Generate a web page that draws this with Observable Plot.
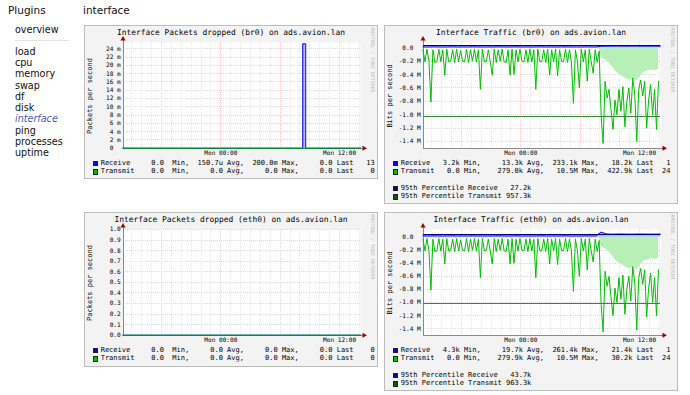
<!DOCTYPE html>
<html><head><meta charset="utf-8">
<script src="https://cdn.jsdelivr.net/npm/d3@7"></script>
<script src="https://cdn.jsdelivr.net/npm/@observablehq/plot@0.6"></script>
<style>
body{margin:0;background:#fff;width:690px;height:395px;overflow:hidden;position:relative;font-family:"DejaVu Sans",sans-serif;color:#111}
.h{position:absolute;font-size:10.5px;line-height:1;white-space:pre}
.nav{position:absolute;left:15px;font-size:9.6px;line-height:1;white-space:pre}
.hr{position:absolute;left:15px;top:40px;width:54px;height:1px;background:#e4e4e4}
.box{position:absolute;box-sizing:border-box;width:294px;background:#f3f3f3;border:1px solid #bdbdbd;overflow:hidden;font-family:"DejaVu Sans Mono",monospace;color:#000}
.title{position:absolute;left:0;right:0;top:2.6px;text-align:center;font-size:7.9px;line-height:1;white-space:pre}
.leg{position:absolute;left:15.7px;font-size:7px;line-height:1;white-space:pre}
.sq{position:absolute;left:7.5px;width:3.5px;height:3.5px;border:1px solid #222}
.ylab{position:absolute;font-size:7px;line-height:1;white-space:pre;transform:translate(-50%,-50%) rotate(-90deg)}
.wm{position:absolute;font-size:4.9px;line-height:1;color:#bdbdbd;white-space:pre;transform:translate(-50%,-50%) rotate(90deg)}
.box svg{position:absolute;left:0;top:0}
</style></head><body>
<div id="root"></div>
<script>
// ---------- data ----------
const navItems = ["load","cpu","memory","swap","df","disk","interface","ping","processes","uptime"];
const xTickLabels = ["2024-01-15T00:00:00Z","2024-01-15T12:00:00Z"];
const timeStart = "2024-01-14T14:07:00Z", timeEnd = "2024-01-15T14:07:00Z";

// packets dropped (br0): receive spike, transmit flat
const dropTimes = ["2024-01-14T14:07:00Z","2024-01-15T08:17:00Z","2024-01-15T08:35:00Z","2024-01-15T14:07:00Z"];
const dropRxBr0 = [0, 0.0252, 0, 0];
const dropTxBr0 = [0, 0, 0, 0];
const dropRxEth0 = [0, 0, 0, 0];
const dropTxEth0 = [0, 0, 0, 0];

// traffic, transmit (M bit/s, drawn downward), one value per 12 minutes
const txBr0M = [0.03,0.21,0.02,0.2,0.81,0.03,0.22,0.21,0.02,0.21,0.03,0.41,0.02,0.21,0.2,0.03,0.22,0.02,0.21,0.04,
0.2,0.21,0.02,0.22,0.03,0.2,0.02,0.21,0.03,0.62,0.02,0.21,0.2,0.03,0.21,0.41,0.02,0.22,0.03,0.2,
0.02,0.21,0.22,0.03,0.41,0.02,0.4,0.03,0.21,0.02,0.2,0.21,0.03,0.22,0.02,0.21,0.03,0.62,0.02,0.2,
0.21,0.03,0.22,0.02,0.41,0.03,0.21,0.02,0.42,0.03,0.2,0.21,0.02,0.22,0.03,0.21,0.83,0.03,0.2,0.6,
0.02,0.21,0.03,0.5,0.02,0.21,0.38,0.03,0.22,0.05,
1.02,1.43,0.5,0.75,0.62,0.92,1.22,0.78,1.0,0.62,0.95,0.58,1.18,0.8,0.6,0.98,0.45,0.7,1.4,0.62,
0.48,0.72,0.5,1.2,0.78,0.55,1.0,0.62,1.22,0.5];
const txEth0M = [0.03,0.21,0.02,0.2,0.81,0.03,0.22,0.21,0.02,0.21,0.03,0.41,0.02,0.21,0.2,0.03,0.22,0.02,0.21,0.04,
0.2,0.21,0.02,0.22,0.03,0.2,0.02,0.21,0.03,0.62,0.02,0.21,0.2,0.03,0.21,0.41,0.02,0.22,0.03,0.2,
0.02,0.21,0.22,0.03,0.41,0.02,0.4,0.03,0.21,0.02,0.2,0.21,0.03,0.22,0.02,0.21,0.03,0.62,0.02,0.2,
0.21,0.03,0.22,0.02,0.41,0.03,0.21,0.02,0.42,0.03,0.2,0.21,0.02,0.22,0.03,0.21,0.83,0.03,0.2,0.6,
0.02,0.21,0.03,0.5,0.02,0.21,0.38,0.03,0.22,0.05,
1.03,1.45,0.52,0.75,0.6,0.92,1.2,0.78,1.0,0.62,0.95,0.58,1.18,0.8,0.6,0.98,0.45,0.7,1.42,0.62,
0.48,0.72,0.5,1.22,0.78,0.55,1.0,0.62,1.2,0.5];
// light green envelope, from the 90th 12-minute slot on
const txFillOffset = 89;
const txFillBr0M = [0,0.14,0.16,0.18,0.2,0.22,0.26,0.3,0.34,0.37,0.39,0.41,0.43,0.45,0.47,0.48,0.48,0.46,0.48,0.5,0.46,0.42,0.38,0.36,0.35,0.34,0.33,0.33,0.34,0.33,0.33];
const txFillEth0M = [0,0.14,0.16,0.18,0.2,0.22,0.26,0.3,0.34,0.37,0.39,0.41,0.43,0.45,0.47,0.48,0.48,0.46,0.48,0.5,0.46,0.42,0.38,0.36,0.35,0.34,0.33,0.33,0.34,0.33,0.33];
// receive (k bit/s), one value per 30 minutes
const rxBr0K = [13,12,14,13,12,13,14,12,13,12,14,13,12,13,12,14,13,12,13,14,12,13,12,13,14,12,13,12,13,14,12,13,12,14,13,12,24,26,25,27,26,25,26,27,25,26,25,26,26];
const rxEth0K = [20,19,21,20,19,20,21,19,20,19,21,20,19,20,19,21,20,19,20,21,19,20,19,20,21,19,20,19,20,21,19,20,19,21,20,19,78,50,46,47,48,47,46,47,48,47,46,47,47];
const pct95 = {br0:{rx:27.2e3, tx:1.02e6}, eth0:{rx:43.7e3, tx:1.02e6}};

const dropTicks = [0,0.002,0.004,0.006,0.008,0.010,0.012,0.014,0.016,0.018,0.020,0.022,0.024];
const dropTicksEth0 = [0,0.1,0.2,0.3,0.4,0.5,0.6,0.7,0.8,0.9,1.0];
const trafficTicks = [0,-0.2e6,-0.4e6,-0.6e6,-0.8e6,-1.0e6,-1.2e6,-1.4e6];

// legend texts
const statsDropBr0 = {rx:["0.0","150.7u","200.0m","0.0","13"], tx:["0.0","0.0","0.0","0.0","0"]};
const statsDropEth0 = {rx:["0.0","0.0","0.0","0.0","0"], tx:["0.0","0.0","0.0","0.0","0"]};
const statsTrafBr0 = {rx:["3.2k","13.3k","233.1k","18.2k","1"], tx:["0.0","279.0k","10.5M","422.9k","24"], p95:["27.2k","957.3k"]};
const statsTrafEth0 = {rx:["4.3k","19.7k","261.4k","21.4k","1"], tx:["0.0","279.9k","10.5M","30.2k","24"], p95:["43.7k","963.3k"]};

// ---------- helpers ----------
function el(cls, css, text, parent){ const d=document.createElement("div"); d.className=cls; Object.assign(d.style, css||{}); if(text!=null) d.textContent=text; (parent||document.body).appendChild(d); return d; }

el("h",{left:"8px",top:"5px"},"Plugins");
el("h",{left:"83px",top:"5px"},"interface");
el("nav",{top:"25.3px"},"overview");
el("hr",{});
navItems.forEach((n,i)=>{ const d=el("nav",{top:(46.6+i*11.3)+"px"},n); if(n==="interface"){d.style.fontStyle="italic";d.style.color="#3d5fb0";} });

const t0 = new Date(timeStart), t1 = new Date(timeEnd);
const hours = d3.utcHour.range(t0, t1);
const sixHours = d3.utcHour.every(6).range(t0, t1);
const xLab = xTickLabels.map(s=>new Date(s));
const step12 = i => new Date(+t0 + i*12*60e3);
const step30 = i => new Date(+t0 + i*30*60e3);
const crisp = {shapeRendering:"crispEdges"};

function chart(yDomain, yTicks, yFmt, marks){
  const ymin = yDomain[0], ymax = yDomain[1];
  return Plot.plot({
    width: 292, height: 134,
    marginLeft: 37.5, marginRight: 17, marginTop: 16, marginBottom: 12.3,
    style:{background:"transparent", fontFamily:"DejaVu Sans Mono", fontSize:"6.1px", color:"#000"},
    x:{type:"utc", domain:[t0,t1]},
    y:{domain:yDomain},
    marks:[
      Plot.frame({fill:"#fff", stroke:"none"}),
      Plot.ruleX(hours,{stroke:"#e6e6e6", strokeDasharray:"1,1", ...crisp}),
      Plot.ruleX(sixHours,{stroke:"#f9cfcf", strokeDasharray:"1,1", ...crisp}),
      Plot.ruleY(yTicks,{stroke:"#f9cfcf", strokeDasharray:"1,1", ...crisp}),
      Plot.ruleY([ymin],{stroke:"#8a8a8a", insetRight:-3, ...crisp}),
      Plot.ruleX([t0],{stroke:"#8a8a8a", insetTop:-3, ...crisp}),
      ...marks,
      Plot.dot([{x:t1,y:ymin}],{x:"x",y:"y",symbol:"triangle",r:1.9,fill:"#a00000",stroke:"none",rotate:90,dx:3.5}),
      Plot.dot([{x:t0,y:ymax}],{x:"x",y:"y",symbol:"triangle",r:1.9,fill:"#a00000",stroke:"none",dy:-3.5}),
      Plot.axisY(yTicks,{tickSize:0, tickPadding:2.3, tickFormat:yFmt, label:null}),
      Plot.axisX(xLab,{tickSize:0, tickPadding:2, tickFormat:d3.utcFormat("%a %H:%M"), label:null})
    ]
  });
}

function legA(label, s){ return label.padEnd(9)+s[0].padStart(6)+"  Min,"+s[1].padStart(8)+" Avg,"+s[2].padStart(8)+" Max,"+s[3].padStart(8)+" Last"+s[4].padStart(5); }
function legB(label, s){ return label.padEnd(8)+s[0].padStart(6)+" Min,"+s[1].padStart(10)+" Avg,"+s[2].padStart(8)+" Max,"+s[3].padStart(8)+" Last"+s[4].padStart(4); }

function box(left, top, h, title, ylabel){
  const b = el("box",{left:left+"px",top:top+"px",height:h+"px"});
  el("title",{},title,b);
  el("ylab",{left:"5px",top:"69.8px"},ylabel,b);
  el("wm",{left:"287.5px",top:"33.5px"},"RRDTOOL / TOBI OETIKER",b);
  return b;
}
function legendRow(b, y, color, text){
  el("sq",{top:(y-2.6)+"px",background:color},null,b);
  el("leg",{top:(y-3.4)+"px"},text,b);
}

// ---------- panel 1: packets dropped br0 ----------
{
  const b = box(84,25,154,"Interface Packets dropped (br0) on ads.avion.lan","Packets per second");
  const rx = dropTimes.map((t,i)=>({t:new Date(t), y:dropRxBr0[i]}));
  const tx = dropTimes.map((t,i)=>({t:new Date(t), y:dropTxBr0[i]}));
  b.appendChild(chart([0,0.02552], dropTicks, v=> v===0 ? "0\u00a0\u00a0" : Math.round(v*1000)+" m", [
    Plot.areaY(rx,{x:"t",y:"y",curve:"step-after",fill:"#b7b7f7"}),
    Plot.lineY(rx,{x:"t",y:"y",curve:"step-after",stroke:"#0000ff",strokeWidth:1}),
    Plot.lineY(tx,{x:"t",y:"y",stroke:"#00b000",strokeWidth:1})
  ]));
  legendRow(b,137.3,"#0000ff",legA("Receive",statsDropBr0.rx));
  legendRow(b,145.7,"#00c000",legA("Transmit",statsDropBr0.tx));
}
// ---------- panel 3: packets dropped eth0 ----------
{
  const b = box(84,212,155,"Interface Packets dropped (eth0) on ads.avion.lan","Packets per second");
  const rx = dropTimes.map((t,i)=>({t:new Date(t), y:dropRxEth0[i]}));
  const tx = dropTimes.map((t,i)=>({t:new Date(t), y:dropTxEth0[i]}));
  b.appendChild(chart([0,1.0], dropTicksEth0, v=>v.toFixed(1), [
    Plot.lineY(rx,{x:"t",y:"y",stroke:"#0000ff",strokeWidth:1}),
    Plot.lineY(tx,{x:"t",y:"y",stroke:"#00b000",strokeWidth:1})
  ]));
  legendRow(b,137.3,"#0000ff",legA("Receive",statsDropEth0.rx));
  legendRow(b,145.7,"#00c000",legA("Transmit",statsDropEth0.tx));
}
// ---------- traffic panels ----------
function traffic(left, top, h, iface, txM, fillM, rxK, p95, stats, ytop){
  const b = box(left,top,h,"Interface Traffic ("+iface+") on ads.avion.lan","Bits per second");
  const tx = txM.map((v,i)=>({t:step12(i), y:-v*1e6}));
  const fill = fillM.map((v,i)=>({t:step12(i+txFillOffset), y:-v*1e6}));
  const rx = rxK.map((v,i)=>({t:step30(i), y:v*1e3}));
  b.appendChild(chart([-1.5e6, ytop], trafficTicks, v=> v===0 ? "0.0\u00a0\u00a0" : (v/1e6).toFixed(1)+" M", [
    Plot.areaY(rx,{x:"t",y:"y",fill:"#b7b7f7"}),
    Plot.areaY(fill,{x:"t",y:"y",fill:"#b7efb7"}),
    Plot.lineY(tx,{x:"t",y:"y",stroke:"#00c000",strokeWidth:1}),
    Plot.lineY(rx,{x:"t",y:"y",stroke:"#0000ff",strokeWidth:1}),
    Plot.ruleY([p95.rx],{stroke:"#00008b",strokeWidth:1, ...crisp}),
    Plot.ruleY([-p95.tx],{stroke:"#2e8b2e",strokeWidth:1, ...crisp})
  ]));
  legendRow(b,137.3,"#0000ff",legB("Receive",stats.rx));
  legendRow(b,145.7,"#00c000",legB("Transmit",stats.tx));
  legendRow(b,162.3,"#00008b","95th Percentile Receive".padEnd(24)+stats.p95[0].padStart(7));
  legendRow(b,170.7,"#006000","95th Percentile Transmit".padEnd(24)+stats.p95[1].padStart(7));
}
traffic(384,25,179,"br0",txBr0M,txFillBr0M,rxBr0K,pct95.br0,statsTrafBr0,0.079e6);
traffic(384,212,179,"eth0",txEth0M,txFillEth0M,rxEth0K,pct95.eth0,statsTrafEth0,0.118e6);
</script>
</body></html>
